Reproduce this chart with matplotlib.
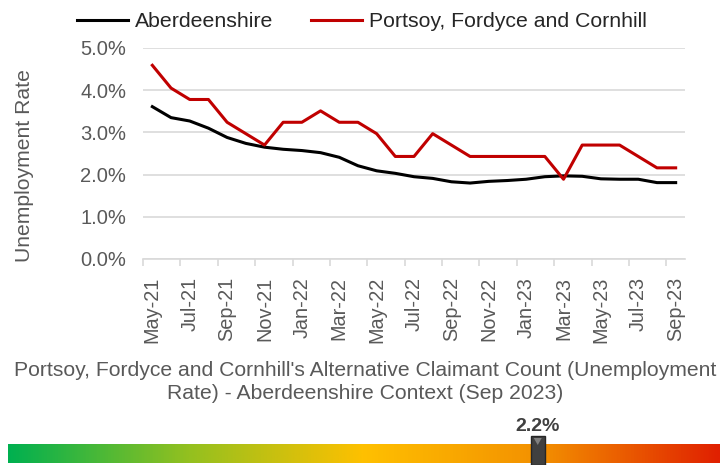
import matplotlib
matplotlib.use("Agg")
import matplotlib.pyplot as plt
import numpy as np
from matplotlib.colors import LinearSegmentedColormap
from matplotlib.patches import Rectangle, Polygon

plt.rcParams['font.family'] = ['Liberation Sans', 'DejaVu Sans']

months = ["May-21", "Jun-21", "Jul-21", "Aug-21", "Sep-21", "Oct-21", "Nov-21", "Dec-21",
          "Jan-22", "Feb-22", "Mar-22", "Apr-22", "May-22", "Jun-22", "Jul-22", "Aug-22",
          "Sep-22", "Oct-22", "Nov-22", "Dec-22", "Jan-23", "Feb-23", "Mar-23", "Apr-23",
          "May-23", "Jun-23", "Jul-23", "Aug-23", "Sep-23"]
aberdeenshire = [3.61, 3.35, 3.27, 3.10, 2.88, 2.74, 2.65, 2.60, 2.57, 2.52, 2.41, 2.21,
                 2.09, 2.03, 1.95, 1.91, 1.83, 1.80, 1.84, 1.86, 1.89, 1.95, 1.97, 1.96,
                 1.90, 1.89, 1.89, 1.81, 1.81]
portsoy = [4.59, 4.05, 3.78, 3.78, 3.24, 2.97, 2.70, 3.24, 3.24, 3.51, 3.24, 3.24,
           2.97, 2.43, 2.43, 2.97, 2.70, 2.43, 2.43, 2.43, 2.43, 2.43, 1.89, 2.70,
           2.70, 2.70, 2.43, 2.16, 2.16]
yticks = [0, 1, 2, 3, 4, 5]
current_value = 2.2
gauge_pos = 0.744  # relative position of marker along the context bar

W, H = 728, 465
fig = plt.figure(figsize=(W / 100, H / 100), dpi=100)

ax = fig.add_axes([143 / W, 1 - 259 / H, (685 - 143) / W, (259 - 48) / H])
x = np.arange(len(months))
ax.plot(x, aberdeenshire, color="black", lw=2.2, label="Aberdeenshire")
ax.plot(x, portsoy, color="#c00000", lw=2.2, label="Portsoy, Fordyce and Cornhill")
ax.set_xlim(-0.5, len(months) - 0.5)
ax.set_ylim(0, 5)
ax.set_yticks(yticks)
ax.set_yticklabels([f"{v:.1f}%" for v in yticks], fontsize=14.5, color="#595959")
ax.grid(axis="y", color="#d9d9d9", lw=1.2)
ax.set_axisbelow(True)
for s in ["top", "right", "left"]:
    ax.spines[s].set_visible(False)
ax.spines["bottom"].set_color("#d9d9d9")
ax.spines["bottom"].set_linewidth(1.2)
ax.tick_params(axis="y", length=0, pad=12)
ax.set_xticks(x[::2])
ax.set_xticklabels(months[::2], rotation=90, fontsize=14.3, color="#595959")
ax.set_xticks(np.arange(-0.5, len(months), 2), minor=True)
ax.tick_params(axis="x", which="major", length=0, pad=13)
ax.tick_params(axis="x", which="minor", length=5, color="#d9d9d9", width=1.2)
ax.set_ylabel("Unemployment Rate", fontsize=15.2, color="#595959")
ax.yaxis.set_label_coords((25 - 143) / 542, (259 - 166) / 211)
ax.yaxis.label.set_verticalalignment("center")

leg = fig.legend(loc="upper left", bbox_to_anchor=(58 / W, 1 + 7 / H), ncol=2, frameon=False,
                 fontsize=15.3, handlelength=2.4, columnspacing=1.75, handletextpad=0.33)
for t in leg.get_texts():
    t.set_color("#262626")

fig.text(365 / W, 1 - 382 / H,
         "Portsoy, Fordyce and Cornhill's Alternative Claimant Count (Unemployment\nRate) - Aberdeenshire Context (Sep 2023)",
         ha="center", va="center", fontsize=15.2, color="#595959", linespacing=1.3)

# gradient context bar
bax = fig.add_axes([8 / W, 1 - 463 / H, (720 - 8) / W, 19 / H])
cmap = LinearSegmentedColormap.from_list("ctx", ["#00b050", "#92c020", "#ffc000", "#f39000", "#e02000"])
bax.imshow(np.linspace(0, 1, 512)[None, :], aspect="auto", cmap=cmap, extent=[0, 1, 0, 1])
bax.set_xlim(0, 1)
bax.set_ylim(0, 1)
bax.axis("off")

mx = gauge_pos
oax = fig.add_axes([0, 0, 1, 1], facecolor="none")
oax.set_xlim(0, W)
oax.set_ylim(H, 0)
oax.axis("off")
cx = 8 + mx * (720 - 8)
oax.add_patch(Rectangle((cx - 7, 436), 14, 29, facecolor="#404040", edgecolor="#262626", lw=1))
oax.add_patch(Polygon([(cx - 4, 438), (cx + 4, 438), (cx, 445)], facecolor="#808080", edgecolor="none"))
oax.text(cx, 426, f"{current_value:.1f}%", ha="center", va="center", fontsize=14,
         fontweight="bold", color="#404040")

fig.savefig("out.png", dpi=100)
